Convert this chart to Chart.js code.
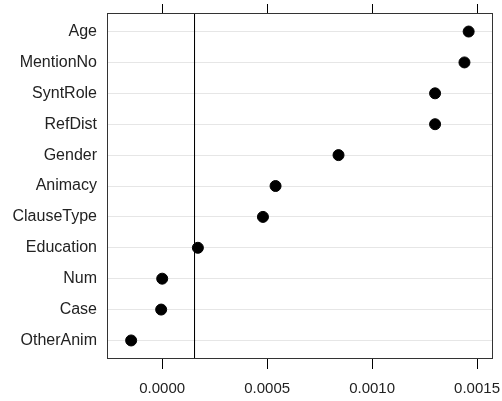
<!DOCTYPE html>
<html>
<head>
<meta charset="utf-8">
<script src="https://cdn.jsdelivr.net/npm/chart.js@4/dist/chart.umd.min.js"></script>
<style>
html,body{margin:0;padding:0;background:#fff;}
canvas{display:block;}
</style>
</head>
<body>
<canvas id="c" width="502" height="401"></canvas>
<script>
const categories = ["Age","MentionNo","SyntRole","RefDist","Gender","Animacy","ClauseType","Education","Num","Case","OtherAnim"];
const values = [0.00146,0.00144,0.00130,0.00130,0.00084,0.00054,0.00048,0.00017,0.00000,-0.000005,-0.000148];
const xTicks = [0.0000,0.0005,0.0010,0.0015];
const xMin = -0.000263, xMax = 0.001576;
const refLine = 0.000154;

const FONT = "'Liberation Sans', Arial, sans-serif";

function noPad(s){ s.paddingLeft=0; s.paddingRight=0; s.paddingTop=0; s.paddingBottom=0; }

const boxPlugin = {
  id:'box',
  afterDraw(chart){
    const a = chart.chartArea, ctx = chart.ctx;
    ctx.save();
    ctx.strokeStyle = '#333';
    ctx.lineWidth = 1;
    ctx.strokeRect(Math.round(a.left)+0.5, Math.round(a.top)+0.5, Math.round(a.right-a.left)-1, Math.round(a.bottom-a.top)-1);
    ctx.restore();
  }
};

new Chart(document.getElementById('c'), {
  type:'scatter',
  data:{
    datasets:[
      {
        type:'line',
        data:[{x:refLine,y:-0.6},{x:refLine,y:categories.length-1+0.6}],
        borderColor:'#000', borderWidth:1, pointRadius:0, fill:false, order:2
      },
      {
        data: values.map((v,i)=>({x:v,y:i})),
        backgroundColor:'#000', borderColor:'#000', pointRadius:5.5, pointHoverRadius:5.5, order:1
      }
    ]
  },
  options:{
    responsive:false, animation:false,
    layout:{padding:{right:9,left:0,top:0,bottom:0}},
    plugins:{legend:{display:false},tooltip:{enabled:false}},
    scales:{
      x:{
        type:'linear', position:'bottom', min:xMin, max:xMax,
        afterBuildTicks(s){ s.ticks = xTicks.map(v=>({value:v})); },
        afterFit(s){ s.height = 42; noPad(s); },
        grid:{drawOnChartArea:false, drawTicks:true, tickLength:10, tickColor:'#000', tickWidth:1},
        border:{display:false},
        ticks:{color:'#222', font:{family:FONT,size:15}, padding:11, maxRotation:0, callback:v=>v.toFixed(4)}
      },
      x2:{
        type:'linear', position:'top', min:xMin, max:xMax,
        afterBuildTicks(s){ s.ticks = xTicks.map(v=>({value:v})); },
        afterFit(s){ s.height = 13; noPad(s); },
        grid:{drawOnChartArea:false, drawTicks:true, tickLength:9, tickColor:'#000', tickWidth:1},
        border:{display:false},
        ticks:{color:'rgba(0,0,0,0)', font:{size:1}, padding:0, callback:()=>''}
      },
      y:{
        type:'linear', min:-0.6, max:categories.length-1+0.6, reverse:true,
        afterBuildTicks(s){ s.ticks = categories.map((c,i)=>({value:i})); },
        afterFit(s){ s.width = 107; noPad(s); },
        grid:{color:'#e6e6e6', lineWidth:1, drawTicks:false},
        border:{display:false},
        ticks:{color:'#222', font:{family:FONT,size:16}, padding:10, autoSkip:false, callback:v=>categories[v]}
      }
    }
  },
  plugins:[boxPlugin]
});
</script>
</body>
</html>
